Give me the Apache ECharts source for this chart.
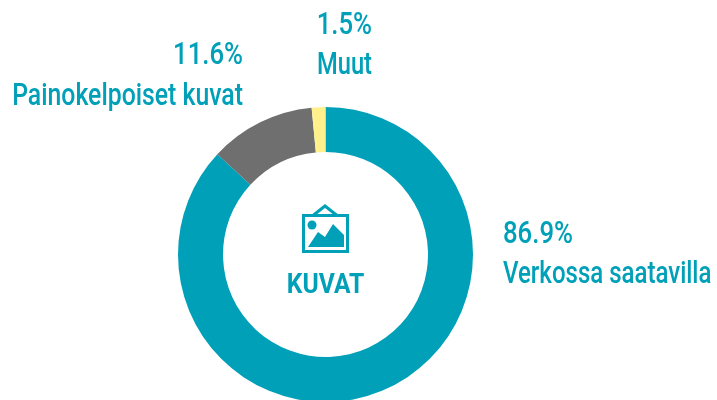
<!DOCTYPE html>
<html>
<head>
<meta charset="utf-8">
<style>
html, body { margin: 0; padding: 0; background: #fff; }
#chart { width: 717px; height: 400px; }
</style>
<script src="https://cdn.jsdelivr.net/npm/echarts@6/dist/echarts.min.js"></script>
</head>
<body>
<div id="chart"></div>
<script>
const categories = ['Verkossa saatavilla', 'Painokelpoiset kuvat', 'Muut'];
const values = [86.9, 11.6, 1.5];
const valueLabels = ['86.9%', '11.6%', '1.5%'];
const colors = ['#00A0B8', '#6F6F6F', '#FFF08C'];
const centerTitle = 'KUVAT';

const teal = '#00A0B8';
const labelFont = 'Roboto, "Liberation Sans", sans-serif';

// no narrow font is available, so the text gets squeezed with scaleX
const labelBoxes = [
  { x: 503, y: 235, y2: 275, align: 'left', nameScale: 0.775 },
  { x: 243, y: 56, y2: 97, align: 'right', nameScale: 0.8 },
  { x: 372, y: 26, y2: 66, align: 'right', nameScale: 0.765 }
];

function labelText(text, x, y, align, scaleX) {
  return {
    type: 'text',
    x: x,
    y: y,
    scaleX: scaleX,
    style: {
      text: text,
      fill: teal,
      font: '500 31px ' + labelFont,
      textAlign: align,
      textVerticalAlign: 'middle'
    }
  };
}

let labelGraphics = [];
categories.forEach((name, i) => {
  let box = labelBoxes[i];
  labelGraphics.push(labelText(valueLabels[i], box.x, box.y, box.align, 0.83));
  labelGraphics.push(labelText(name, box.x, box.y2, box.align, box.nameScale));
});

let myChart = echarts.init(document.getElementById('chart'), null, { renderer: 'canvas' });

myChart.setOption({
  animation: false,
  backgroundColor: '#fff',
  color: colors,
  series: [
    {
      type: 'pie',
      center: [325.5, 254.5],
      radius: [102.5, 147.5],
      startAngle: 90,
      clockwise: true,
      silent: true,
      data: categories.map((name, i) => ({ name: name, value: values[i] })),
      label: { show: false },
      labelLine: { show: false }
    }
  ],
  graphic: labelGraphics.concat([
    {
      type: 'text',
      x: 325.5,
      y: 286,
      scaleX: 0.88,
      style: {
        text: centerTitle,
        fill: teal,
        font: '700 28px ' + labelFont,
        textAlign: 'center',
        textVerticalAlign: 'middle'
      }
    },
    // picture frame icon
    {
      type: 'group',
      x: 302,
      y: 204,
      children: [
        { type: 'rect', shape: { x: 1.5, y: 11.5, width: 44, height: 36 }, style: { fill: 'none', stroke: teal, lineWidth: 3 } },
        { type: 'polyline', shape: { points: [[11, 11.5], [23, 2], [35, 11.5]] }, style: { fill: 'none', stroke: teal, lineWidth: 3 } },
        { type: 'circle', shape: { cx: 10, cy: 21, r: 4.5 }, style: { fill: teal } },
        { type: 'polygon', shape: { points: [[6, 43], [16, 28], [23, 33], [31, 20], [42, 31], [42, 43]] }, style: { fill: teal } }
      ]
    }
  ])
});
</script>
</body>
</html>
